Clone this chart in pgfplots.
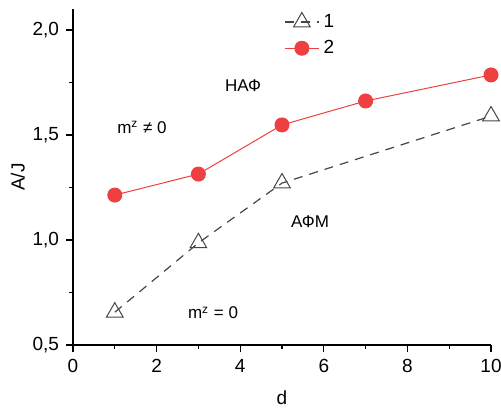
\documentclass[border=0pt]{standalone}
\usepackage{pgfplots}
\pgfplotsset{compat=1.18}
\usepackage{fontspec}
\setmainfont{Liberation Sans}
\definecolor{ptred}{RGB}{238,64,64}
\definecolor{dgray}{RGB}{70,70,70}
\begin{document}
\begin{tikzpicture}
\begin{axis}[
  name=ax,
  width=209pt, height=168pt, scale only axis,
  xmin=0, xmax=10, ymin=0.5, ymax=2.1,
  axis x line=bottom, axis y line=left,
  axis line style={-, line width=0.7pt},
  xtick={0,2,...,10}, ytick={0.5,1.0,1.5,2.0},
  minor x tick num=1, minor y tick num=1,
  tick align=outside, tick style={line width=0.6pt, black},
  major tick length=3.5pt, minor tick length=2pt,
  /pgf/number format/assume math mode=true,
  /pgf/number format/use comma,
  yticklabel style={/pgf/number format/fixed, /pgf/number format/fixed zerofill, /pgf/number format/precision=1},
  tick label style={font=\fontsize{9.5}{11}\selectfont},
  label style={font=\fontsize{9.5}{11}\selectfont},
  xlabel={d}, ylabel={A/J},
  xlabel style={at={(axis description cs:0.5,-0.158)}, anchor=center},
  ylabel style={at={(axis description cs:-0.132,0.5)}, anchor=center, rotate=0},
  clip=false,
  legend style={draw=none, fill=none, at={(axis description cs:0.49,1.01)}, anchor=north west,
    font=\fontsize{9.5}{11}\selectfont, row sep=1pt},
  legend cell align=left,
]
\addplot[dgray, line width=0.6pt, dash pattern=on 4.5pt off 3.5pt,
  mark=triangle, mark size=4.8pt, mark options={solid, fill=white, draw=dgray, line width=0.5pt}]
  coordinates {(1,0.656) (3,0.986) (5,1.271) (10,1.590)};
\addlegendentry{1}
\addplot[ptred, line width=0.5pt, mark=*, mark size=3.5pt, mark options={fill=ptred, draw=ptred}]
  coordinates {(1,1.214) (3,1.314) (5,1.548) (7,1.662) (10,1.786)};
\addlegendentry{2}
\node[font=\fontsize{8.5}{10}\selectfont] at (axis cs:4.07,1.733) {НАФ};
\node[font=\fontsize{8.5}{10}\selectfont] at (axis cs:1.65,1.535) {m\textsuperscript{z} ≠ 0};
\node[font=\fontsize{8.5}{10}\selectfont] at (axis cs:5.67,1.086) {АФМ};
\node[font=\fontsize{8.5}{10}\selectfont] at (axis cs:3.35,0.652) {m\textsuperscript{z} = 0};
\end{axis}
\pgfresetboundingbox
\path ([xshift=-36.5pt, yshift=-33.5pt]ax.south west) rectangle ([xshift=5pt, yshift=4.5pt]ax.north east);
\end{tikzpicture}
\end{document}
